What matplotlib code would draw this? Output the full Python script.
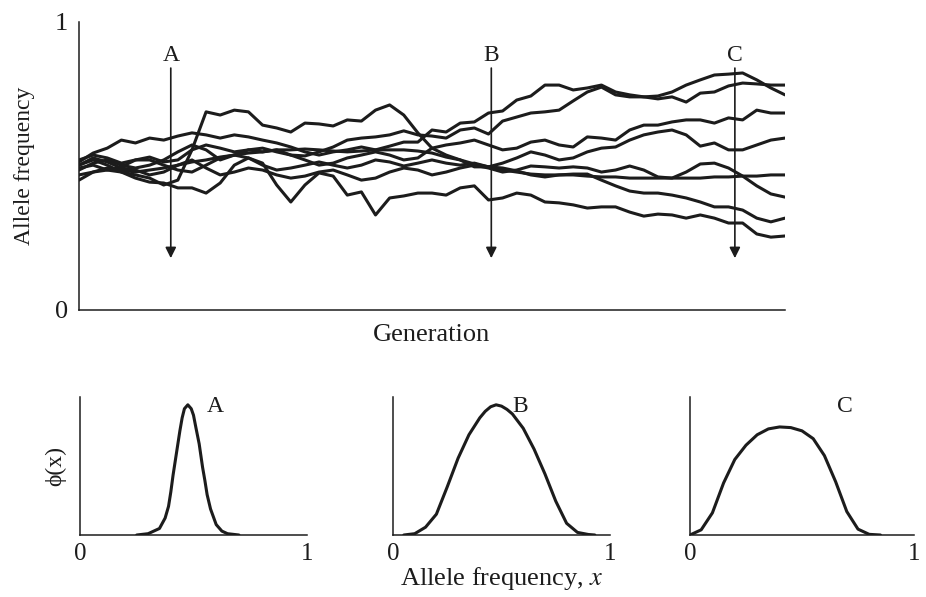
import matplotlib
matplotlib.use("Agg")
import matplotlib.pyplot as plt
import numpy as np

plt.rcParams['font.family'] = ['Liberation Serif', 'DejaVu Serif']
plt.rcParams['mathtext.fontset'] = 'stix'

INK = '#1c1c1c'

# ---------------- data: drift trajectories (generation vs allele frequency) -------------
generation = [0, 2, 4, 6, 8, 10, 12, 14, 16, 18, 20, 22, 24, 26, 28, 30, 32, 34, 36, 38,
              40, 42, 44, 46, 48, 50, 52, 54, 56, 58, 60, 62, 64, 66, 68, 70, 72, 74, 76, 78,
              80, 82, 84, 86, 88, 90, 92, 94, 96, 98, 100]

traj_1 = [.521, .538, .528, .510, .521, .531, .514, .521, .556, .573, .562, .549, .556, .562, .549,
          .538, .535, .549, .566, .590, .597, .601, .608, .622, .608, .604, .597, .625, .632, .611,
          .656, .670, .684, .688, .694, .726, .757, .774, .747, .740, .740, .733, .740, .722, .753,
          .757, .778, .788, .785, .781, .781]
traj_2 = [.514, .545, .562, .590, .580, .597, .590, .604, .615, .608, .597, .608, .601, .590, .580,
          .566, .549, .538, .549, .556, .566, .556, .569, .583, .583, .625, .618, .649, .653, .684,
          .691, .729, .743, .781, .781, .764, .771, .781, .757, .747, .740, .743, .757, .781, .799,
          .816, .819, .823, .799, .771, .747]
traj_3 = [.486, .510, .521, .503, .493, .503, .521, .549, .573, .556, .521, .538, .556, .549, .556,
          .538, .521, .503, .510, .528, .538, .549, .538, .521, .528, .562, .573, .580, .590, .573,
          .556, .562, .583, .590, .573, .566, .601, .597, .590, .625, .642, .642, .653, .660, .660,
          .649, .667, .660, .694, .684, .684]
traj_4 = [.493, .503, .486, .497, .521, .521, .503, .486, .479, .503, .528, .538, .528, .503, .486,
          .493, .503, .514, .503, .493, .503, .521, .514, .500, .510, .521, .510, .503, .510, .497,
          .510, .528, .549, .538, .521, .528, .549, .562, .566, .590, .608, .618, .625, .608, .569,
          .580, .556, .556, .573, .590, .597]
traj_5 = [.469, .479, .493, .486, .479, .486, .493, .503, .514, .521, .531, .538, .545, .549, .556,
          .556, .559, .556, .552, .549, .552, .556, .556, .556, .552, .545, .531, .521, .507, .497,
          .486, .479, .472, .469, .469, .469, .465, .462, .462, .458, .458, .458, .458, .458, .458,
          .462, .462, .465, .465, .469, .469]
traj_6 = [.503, .528, .514, .493, .486, .469, .479, .503, .521, .493, .469, .479, .493, .486, .469,
          .458, .465, .479, .486, .469, .451, .458, .479, .493, .486, .469, .479, .493, .503, .493,
          .479, .486, .500, .497, .493, .497, .493, .479, .486, .500, .486, .462, .458, .479, .507,
          .510, .493, .465, .431, .403, .392]
traj_7 = [.503, .521, .503, .479, .469, .458, .434, .451, .556, .688, .677, .694, .688, .642, .632,
          .618, .649, .646, .639, .660, .656, .694, .712, .677, .615, .562, .538, .521, .497, .497,
          .493, .483, .469, .462, .469, .472, .472, .451, .431, .413, .406, .406, .399, .389, .375,
          .358, .358, .347, .319, .306, .319]
traj_8 = [.451, .479, .486, .479, .458, .444, .441, .424, .424, .406, .441, .503, .528, .510, .434,
          .375, .434, .476, .465, .399, .410, .330, .389, .396, .406, .406, .399, .424, .431, .382,
          .389, .406, .399, .375, .372, .365, .354, .358, .358, .340, .326, .333, .330, .319, .330,
          .319, .302, .302, .264, .253, .257]
trajectories = [traj_1, traj_2, traj_3, traj_4, traj_5, traj_6, traj_7, traj_8]

# sampling times (generation) and their labels
sample_labels = ['A', 'B', 'C']
sample_generation = [13.0, 58.4, 92.9]

# ---------------- data: distributions phi(x) at the three sampling times ----------------
xA = [0.25, 0.30, 0.35, 0.375, 0.39, 0.40, 0.41, 0.425, 0.44, 0.45, 0.46, 0.475, 0.49,
      0.50, 0.51, 0.525, 0.54, 0.55, 0.56, 0.575, 0.60, 0.625, 0.65, 0.70]
phiA = [0.0, 0.01, 0.05, 0.13, 0.22, 0.33, 0.46, 0.63, 0.80, 0.90, 0.97, 1.0, 0.97,
        0.92, 0.83, 0.70, 0.52, 0.42, 0.31, 0.20, 0.08, 0.03, 0.01, 0.0]
xB = [0.05, 0.10, 0.15, 0.20, 0.25, 0.30, 0.35, 0.40, 0.425, 0.45, 0.475, 0.50, 0.525, 0.55,
      0.60, 0.65, 0.70, 0.75, 0.80, 0.85, 0.90, 0.93]
phiB = [0.0, 0.01, 0.06, 0.16, 0.37, 0.59, 0.77, 0.90, 0.95, 0.985, 1.0, 0.99, 0.965, 0.93,
        0.82, 0.66, 0.47, 0.26, 0.09, 0.02, 0.004, 0.0]
xC = [0.0, 0.05, 0.10, 0.15, 0.20, 0.25, 0.30, 0.35, 0.40, 0.45, 0.50, 0.55, 0.60, 0.65,
      0.70, 0.75, 0.80, 0.85]
phiC = [0.0, 0.04, 0.17, 0.40, 0.58, 0.69, 0.77, 0.815, 0.83, 0.825, 0.80, 0.74, 0.61, 0.41,
        0.18, 0.045, 0.005, 0.0]
distributions = [(xA, phiA), (xB, phiB), (xC, phiC)]

# ---------------- figure ----------------
W, H = 926, 597
fig = plt.figure(figsize=(W / 100, H / 100), dpi=100)
fig.patch.set_facecolor('white')

def box(l, t, r, b):
    return [l / W, 1 - b / H, (r - l) / W, (b - t) / H]

ax = fig.add_axes(box(79, 22, 785, 310))
for tr in trajectories:
    ax.plot(generation, tr, color=INK, lw=2.2, solid_joinstyle='round',
            solid_capstyle='round', zorder=2)
ax.set_xlim(0, 100)
ax.set_ylim(0, 1)
for s in ['top', 'right']:
    ax.spines[s].set_visible(False)
for s in ['left', 'bottom']:
    ax.spines[s].set_linewidth(1.1)
    ax.spines[s].set_color(INK)
ax.set_xticks([])
ax.set_yticks([0, 1])
ax.set_yticklabels(['0', '1'], fontsize=19, color=INK)
ax.tick_params(axis='y', length=0, pad=8)
ax.set_xlabel('Generation', fontsize=19, color=INK, labelpad=10)
ax.set_ylabel('Allele frequency', fontsize=17, color=INK, labelpad=14)

for lab, g in zip(sample_labels, sample_generation):
    ax.annotate('', xy=(g, 0.18), xytext=(g, 0.84),
                arrowprops=dict(arrowstyle='-|>', lw=1.2, color=INK,
                                mutation_scale=16, shrinkA=0, shrinkB=0), zorder=3)
    ax.text(g, 0.885, lab, ha='center', va='center', fontsize=17, color=INK)

# bottom panels
panel_boxes = [box(80, 397, 307, 535), box(393, 397, 610, 535), box(690, 397, 914, 535)]
label_pos = [(0.595, 0.985), (0.585, 0.985), (0.69, 0.985)]
for i, ((xs, ps), pb) in enumerate(zip(distributions, panel_boxes)):
    a = fig.add_axes(pb)
    a.plot(xs, ps, color=INK, lw=2.2, solid_joinstyle='round', solid_capstyle='round')
    a.set_xlim(0, 1)
    a.set_ylim(0, 1.06)
    for s in ['top', 'right']:
        a.spines[s].set_visible(False)
    for s in ['left', 'bottom']:
        a.spines[s].set_linewidth(1.1)
        a.spines[s].set_color(INK)
    a.set_yticks([])
    a.set_xticks([0, 1])
    a.set_xticklabels(['0', '1'], fontsize=18, color=INK)
    a.tick_params(axis='x', length=0, pad=6)
    a.text(label_pos[i][0], label_pos[i][1], sample_labels[i], ha='center', va='center',
           fontsize=17, color=INK)
    if i == 0:
        a.set_ylabel('\u03d5(x)', fontsize=17, color=INK, labelpad=10)
    if i == 1:
        a.set_xlabel('Allele frequency, $\\mathit{x}$', fontsize=19, color=INK, labelpad=0)

fig.savefig('out.png', dpi=100, facecolor='white')
